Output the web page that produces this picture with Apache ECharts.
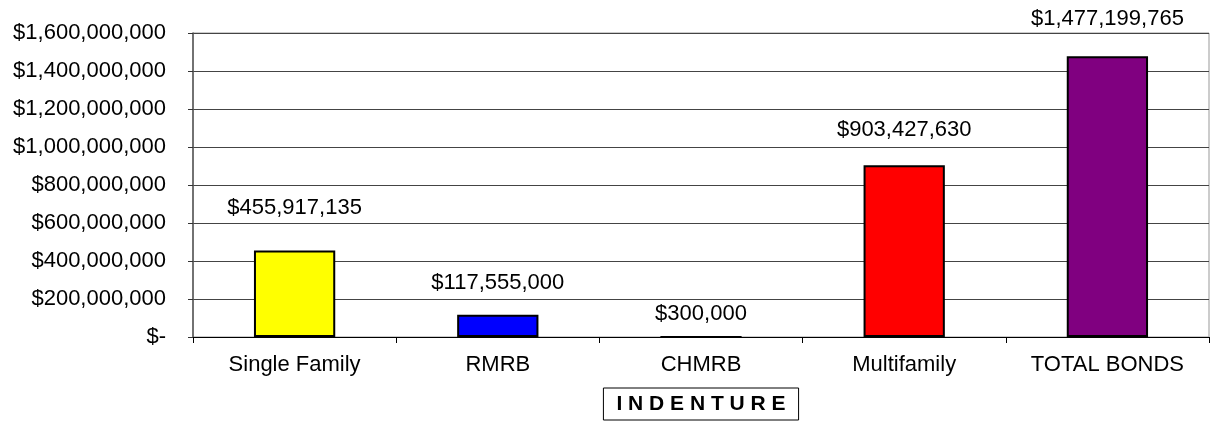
<!DOCTYPE html>
<html>
<head>
<meta charset="utf-8">
<script src="https://cdn.jsdelivr.net/npm/echarts@6/dist/echarts.min.js"></script>
<style>
  html, body { margin: 0; padding: 0; background: #fff; }
  #chart { width: 1214px; height: 425px; }
</style>
</head>
<body>
<div id="chart"></div>
<script>
// data
var categories = ["Single Family", "RMRB", "CHMRB", "Multifamily", "TOTAL BONDS"];
var amounts = [455917135, 117555000, 300000, 903427630, 1477199765];
var yTicks = [0, 200000000, 400000000, 600000000, 800000000, 1000000000, 1200000000, 1400000000, 1600000000];
var axisTitle = "I N D E N T U R E";

// styling
var barColors = ["#FFFF00", "#0000FF", "#00FF00", "#FF0000", "#800080"];
var labelGaps = [31, 21, 11, 24, 26];
var font = "Liberation Sans, Arial, sans-serif";

function money(v) {
  if (v === 0) return "$-";
  return "$" + v.toString().replace(/\B(?=(\d{3})+(?!\d))/g, ",");
}

var chart = echarts.init(document.getElementById("chart"));
chart.setOption({
  animation: false,
  backgroundColor: "#fff",
  grid: { left: 193, right: 5, top: 33, bottom: 88, containLabel: false,
          outerBoundsMode: "none",
          show: true, borderColor: "#999", borderWidth: 1 },
  xAxis: {
    type: "category",
    data: categories,
    axisLine: { lineStyle: { color: "#000", width: 1 } },
    axisTick: { show: true, length: 6, lineStyle: { color: "#000" } },
    axisLabel: { color: "#000", fontSize: 22, fontFamily: font, margin: 17 },
    name: axisTitle,
    nameLocation: "middle",
    nameGap: 51,
    nameTextStyle: {
      color: "#000", fontSize: 21, fontWeight: "bold", fontFamily: font,
      borderColor: "#000", borderWidth: 1, padding: [6, 13, 5, 13]
    }
  },
  yAxis: {
    type: "value",
    min: yTicks[0],
    max: yTicks[yTicks.length - 1],
    interval: yTicks[1] - yTicks[0],
    axisLine: { show: true, lineStyle: { color: "#555", width: 1.5 } },
    axisTick: { show: true, length: 5, lineStyle: { color: "#333" } },
    splitLine: { lineStyle: { color: "#444", width: 1 } },
    axisLabel: { color: "#000", fontSize: 22, fontFamily: font, margin: 27,
                 formatter: money }
  },
  series: [{
    type: "bar",
    barWidth: "40%",
    data: amounts.map(function (v, i) {
      return {
        value: v,
        itemStyle: { color: barColors[i], borderColor: "#000", borderWidth: 2 },
        label: { distance: labelGaps[i] }
      };
    }),
    label: {
      show: true,
      position: "top",
      color: "#000",
      fontSize: 22,
      fontFamily: font,
      formatter: function (p) { return money(p.value); }
    }
  }]
});
</script>
</body>
</html>
